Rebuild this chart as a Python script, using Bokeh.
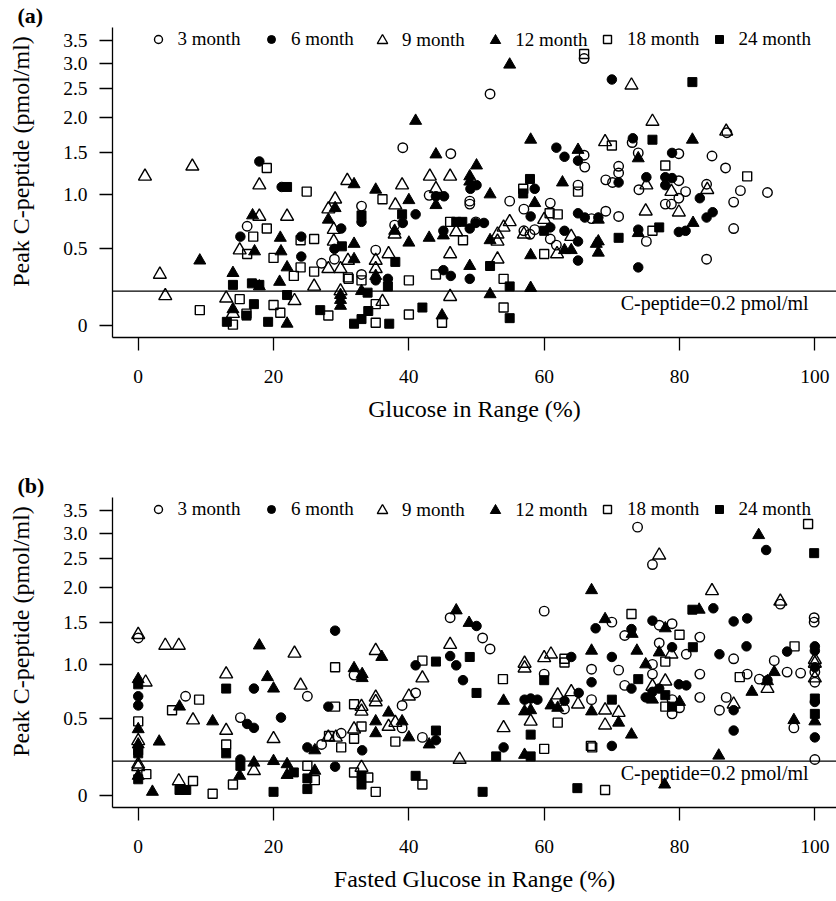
import numpy as np
from bokeh.plotting import figure
from bokeh.models import (Span, Label, Legend, LegendItem, FixedTicker,
                          CustomJSTickFormatter, Range1d)
from bokeh.layouts import column
from bokeh.embed import file_html
from bokeh.resources import INLINE

FONT = "Liberation Serif"

series_labels = ["3 month", "6 month", "9 month", "12 month", "18 month", "24 month"]
y_ticks = [0, 0.5, 1.0, 1.5, 2.0, 2.5, 3.0, 3.5]
x_ticks = [0, 20, 40, 60, 80, 100]
threshold = 0.2
threshold_text = "C-peptide=0.2 pmol/ml"
y_title = "Peak C-peptide (pmol/ml)"
x_title_a = "Glucose in Range (%)"
x_title_b = "Fasted Glucose in Range (%)"

# ---------------- Panel (a): Glucose in Range ----------------
a_m3 = [(16.1,.69),(27.1,.39),(29.0,.42),(65.9,3.1),(52.0,2.40),(39.1,1.56),(46.2,1.48),(65.9,1.46),
        (66.0,1.31),(43.0,.99),(49.0,.93),(49.0,.90),(54.9,.93),(57.0,.85),(60.9,.91),(65.0,1.10),
        (67.0,.76),(33.0,.88),(37.9,.70),(49.9,.73),(57.0,.65),(57.9,.62),(58.6,.66),(60.9,.58),
        (61.8,.53),(35.1,.49),(33.0,.31),(87.0,1.77),(73.0,1.63),(73.9,1.49),(79.9,1.48),(84.8,1.45),
        (86.8,1.30),(71.0,1.32),(71.0,1.24),(69.1,1.16),(70.1,1.13),(74.0,1.05),(79.9,1.15),(80.9,1.03),
        (79.9,.96),(77.9,.90),(78.8,.90),(84.0,1.11),(89.0,1.04),(88.0,.92),(93.0,1.02),(69.1,.83),
        (71.0,.78),(75.1,.56),(88.0,.67),(84.0,.42)]
a_m6 = [(17.9,1.38),(21.2,1.08),(15.1,.60),(24.1,.60),(24.1,.44),(30.0,.67),(29.0,.50),(61.8,1.56),
        (63.0,1.44),(65.0,1.39),(50.0,1.10),(49.1,1.06),(44.0,.98),(45.2,.98),(41.0,.80),(58.6,1.06),
        (65.0,.81),(66.0,.77),(33.0,.73),(39.1,.72),(45.1,.65),(49.0,.67),(49.9,.72),(51.1,.72),
        (58.0,.78),(60.9,.68),(63.0,.65),(65.0,.56),(65.0,.41),(35.1,.27),(36.9,.28),(45.1,.34),
        (46.2,.30),(49.0,.28),(70.0,2.67),(73.1,1.69),(78.9,1.49),(71.0,1.13),(75.1,1.19),(77.9,1.19),
        (78.9,1.18),(77.9,1.10),(83.0,.96),(84.0,.77),(84.9,.82),(68.0,.77),(79.9,.64),(80.9,.65),
        (73.9,.66),(73.9,.36)]
a_m9 = [(1.0,1.20),(8.0,1.32),(3.2,.31),(4.0,.17),(17.9,1.10),(17.9,.78),(22.0,.78),(15.0,.49),
        (28.1,.35),(29.9,.35),(30.9,1.15),(29.1,.95),(28.1,.85),(28.9,.66),(28.9,.56),(31.0,.41),
        (26.0,.23),(13.0,.155),(14.0,.065),(23.1,.14),(29.9,.20),(43.1,1.20),(46.1,1.20),(39.0,1.10),
        (44.0,1.06),(38.0,.89),(37.9,.62),(47.0,.64),(53.1,.62),(53.1,.56),(54.0,.68),(54.9,.73),
        (57.0,.62),(60.0,.75),(61.9,.46),(64.0,.60),(37.0,.46),(35.1,.41),(35.1,.35),(46.1,.46),
        (53.1,.42),(46.1,.165),(36.1,.135),(72.9,2.56),(76.0,1.94),(86.9,1.79),(69.0,1.64),(75.1,1.10),
        (78.8,1.03),(84.1,1.05),(75.0,.83),(79.9,.82)]
a_m12 = [(9.1,.41),(16.9,.79),(17.2,.48),(21.0,.59),(21.1,.48),(22.0,.36),(20.9,.26),(31.9,1.11),
         (29.1,.86),(28.1,.75),(31.9,.54),(31.9,.42),(14.0,.32),(17.9,.23),(14.0,.09),(22.0,.01),
         (29.9,.175),(29.9,.145),(29.9,.11),(54.9,2.97),(41.0,1.95),(44.0,1.47),(58.0,1.67),(65.0,1.53),
         (50.0,1.33),(49.0,1.20),(49.0,1.14),(35.1,1.05),(44.0,.89),(40.0,.94),(52.0,1.00),(62.7,1.13),
         (58.6,.91),(37.9,.65),(40.0,.55),(43.0,.59),(45.1,.61),(52.0,.57),(63.0,.49),(64.0,.49),
         (58.0,.45),(67.7,.54),(35.1,.30),(49.0,.37),(58.0,.22),(33.0,.20),(52.0,.18),(44.9,.055),
         (81.9,1.67),(73.9,1.42),(68.0,.75),(82.0,.72),(73.9,.63),(68.0,.56),(68.0,.47)]
a_m18 = [(9.1,.085),(19.0,1.30),(24.9,1.03),(17.0,.60),(19.0,.67),(16.1,.46),(20.0,.43),(24.0,.57),
         (26.0,.58),(24.0,.36),(23.0,.30),(26.0,.33),(31.0,.29),(15.0,.15),(16.0,.065),(14.0,.005),
         (20.0,.115),(21.0,.07),(28.1,.055),(65.9,3.2),(36.1,.95),(56.9,1.06),(60.8,.81),(62.0,.80),
         (65.0,1.03),(46.1,.73),(48.0,.57),(60.0,.46),(31.1,.28),(33.0,.27),(40.0,.27),(44.0,.31),
         (54.0,.28),(35.1,.12),(35.1,.015),(40.0,.06),(44.9,.015),(54.0,.10),(70.0,1.59),(77.9,1.33),
         (90.0,1.20),(76.0,.65)]
a_m24 = [(22.0,1.08),(30.1,.52),(14.0,.24),(16.8,.25),(17.9,.24),(16.0,.054),(17.1,.12),(13.1,.02),
         (19.2,.02),(22.0,.175),(26.9,.085),(31.9,.01),(57.9,1.17),(56.9,1.01),(39.0,.80),(33.0,.79),
         (47.0,.73),(47.9,.73),(60.0,.65),(38.0,.40),(36.9,.23),(52.0,.37),(54.9,.23),(33.9,.19),
         (34.0,.08),(33.0,.035),(37.1,.01),(42.0,.10),(54.9,.04),(81.9,2.62),(76.0,1.67),(77.0,.68),
         (71.0,.59)]

# ---------------- Panel (b): Fasted Glucose in Range ----------------
b_m3 = [(0,1.30),(7.0,.69),(15.1,.51),(25.0,.69),(27.1,.31),(30.0,.39),(31.9,.89),(39.0,.43),
        (42.0,.36),(39.0,.61),(41.0,.72),(46.1,1.56),(50.9,1.30),(52.0,1.17),(60.0,.90),(63.0,.58),
        (67.0,.95),(67.0,.66),(60.0,1.65),(73.8,3.13),(76.0,2.39),(94.9,1.75),(70.0,1.50),(71.9,1.33),
        (77.0,1.46),(78.9,1.48),(83.0,1.31),(99.9,1.56),(99.9,1.50),(100,.92),(100,.82),(100,.21),
        (96.9,.43),(95.9,.92),(97.9,.91),(94.0,1.04),(91.8,.85),(90.0,.90),(88.0,1.06),(86.9,.68),
        (85.9,.57),(83.0,.90),(83.0,.68),(81.0,1.11),(77.0,1.24),(76.0,1.00),(76.0,.90),(71.0,.94),
        (71.9,.79),(78.9,.66),(80.0,.59),(78.9,.54)]
b_m6 = [(0,.69),(0,.61),(16.1,.46),(17.1,.43),(15.1,.21),(17.1,.76),(21.1,.51),(25.0,.29),
        (29.1,1.39),(28.1,.60),(29.1,.165),(44.0,.34),(33.1,.27),(41.0,.99),(50.0,1.45),(46.1,1.09),
        (47.0,.99),(48.0,.84),(54.0,.29),(64.0,1.08),(57.1,.66),(58.0,.67),(59.0,.66),(63.0,.65),
        (65.1,.72),(67.6,1.42),(67.0,.82),(92.8,2.66),(85.0,1.69),(72.9,1.41),(76.0,1.52),(88.0,1.51),
        (90.0,1.55),(95.9,1.14),(100,1.20),(100,1.15),(100,.97),(100,.64),(100,.36),(93.0,.84),
        (89.9,1.20),(85.9,1.11),(88.0,.57),(88.0,.41),(78.9,1.19),(70.0,1.08),(72.9,.76),(79.9,.80),
        (81.0,.79),(75.0,.68),(76.0,.73),(77.0,.76),(70.0,.30)]
b_m9 = [(0,1.34),(1.1,.82),(0,.335),(0,.18),(0,.165),(4.0,1.21),(6.0,1.21),(8.1,.49),(6.0,.08),
        (13.0,.90),(13.0,.41),(17.1,.14),(20.0,.35),(23.1,1.12),(24.0,.79),(28.1,.36),(29.2,.36),
        (31.9,.42),(35.1,1.15),(33.0,.60),(33.0,.56),(35.1,.68),(35.1,.64),(37.0,.44),(38.0,.47),
        (40.0,.69),(42.0,.86),(46.1,1.22),(54.0,.43),(47.5,.21),(57.1,1.01),(57.1,.96),(60.0,1.07),
        (61.0,1.11),(58.0,.48),(62.0,.70),(64.0,.73),(65.0,.62),(33.0,.16),(77.0,2.56),(84.8,1.95),
        (94.9,1.79),(78.8,1.11),(100,1.05),(100,1.01),(100,.86),(93.0,.76),(88.0,.62),(77.9,.83),
        (76.0,.78),(69.0,.57),(71.0,.55),(69.0,.45)]
b_m12 = [(0,.85),(0,.42),(0,.31),(0,.11),(2.1,.02),(3.1,.33),(6.1,.60),(11.0,.48),(15.0,.11),
         (17.1,.19),(17.9,1.21),(19.1,.87),(20.0,.76),(20.0,.20),(22.0,.18),(22.0,.115),(26.1,.14),
         (26.1,.27),(31.9,.96),(33.1,.90),(33.1,.86),(36.0,1.08),(37.0,.55),(35.1,.48),(35.1,.39),
         (39.0,.48),(40.0,.36),(43.0,.31),(47.0,1.66),(48.9,1.49),(54.0,.65),(57.1,.56),(58.0,.57),
         (57.1,.24),(61.0,.61),(62.0,.59),(67.0,1.96),(67.0,1.15),(67.0,.56),(91.7,2.96),(82.9,1.67),
         (69.0,1.54),(73.0,1.35),(77.9,1.42),(100,.48),(96.9,.49),(94.0,.92),(93.0,.83),(90.7,.73),
         (77.0,1.13),(75.0,1.00),(73.7,1.15),(76.0,.66),(80.0,.64),(71.0,.47),(72.9,.38),(85.8,.235),
         (77.8,.06)]
b_m18 = [(0,.48),(1.2,.12),(9.0,.66),(5.0,.57),(8.1,.08),(11.0,.01),(14.0,.06),(13.0,.31),(25.0,.17),
         (26.1,.085),(28.2,.37),(30.0,.29),(29.1,.97),(29.1,.60),(31.9,.62),(31.9,.35),(31.9,.13),
         (33.0,.44),(38.0,.33),(42.0,1.04),(53.9,.85),(63.0,1.06),(63.0,1.02),(60.0,.28),(62.0,.47),
         (67.1,.29),(34.0,.10),(35.1,.02),(42.0,.06),(99.0,3.2),(72.9,1.61),(80.0,1.34),(97.0,1.20),
         (88.9,.87),(77.9,1.03),(77.9,.60),(66.9,.30),(69.0,.03)]
b_m24 = [(0,.80),(0,.27),(0,.25),(0,.09),(6.1,.03),(7.1,.03),(13.0,.76),(13.0,.25),(15.1,.17),
         (20.0,.02),(23.0,.13),(25.0,.095),(25.0,.035),(44.0,.41),(44.0,1.03),(49.0,1.08),(50.0,.72),
         (52.9,.23),(60.0,.84),(58.0,.38),(58.0,.23),(33.0,.11),(33.0,.06),(41.0,.11),(50.9,.02),
         (64.9,.04),(99.9,2.60),(81.9,1.67),(81.97,1.19),(73.9,.85),(100,.67),(100,.54),(70.0,.66),
         (77.9,.70),(78.9,.60)]

panel_a = [a_m3, a_m6, a_m9, a_m12, a_m18, a_m24]
panel_b = [b_m3, b_m6, b_m9, b_m12, b_m18, b_m24]

marker_styles = [
    dict(marker="circle", size=9.5, fill_color=None, line_color="black", line_width=1.4),
    dict(marker="circle", size=9.5, fill_color="black", line_color="black", line_width=1.0),
    dict(marker="triangle", size=13, fill_color=None, line_color="black", line_width=1.4),
    dict(marker="triangle", size=12, fill_color="black", line_color="black", line_width=1.0),
    dict(marker="square", size=9, fill_color=None, line_color="black", line_width=1.4),
    dict(marker="square", size=9, fill_color="black", line_color="black", line_width=1.0),
]

# legend: marker centre (px from frame left) and glyph box size per entry
legend_centre = [45.6, 159.0, 270.0, 383.3, 495.0, 606.6]
legend_glyph = [20, 20, 26, 26, 20, 20]

# leading no-break spaces shift the rotated title upwards, as in the reference
Y_TITLE_SHIFT = "\u00a0" * 7


def make_panel(tag, series, x_title, height):
    frame_top = 25
    frame_bottom = 337
    p = figure(width=836, height=height, output_backend="svg", toolbar_location=None,
               title=tag,
               x_range=Range1d(-3.80, 103.2), y_range=Range1d(-0.063, 1.575),
               min_border_left=112, min_border_right=0, min_border_top=frame_top,
               min_border_bottom=height - frame_bottom)
    p.outline_line_color = None
    p.xgrid.visible = False
    p.ygrid.visible = False
    p.background_fill_color = "white"

    # panel tag as title, pushed to the far left
    p.title.align = "left"
    p.title.offset = -95
    p.title.standoff = 0
    p.title.text_font = FONT
    p.title.text_font_size = "22px"
    p.title.text_font_style = "bold"
    p.title.text_color = "black"

    # axes
    p.xaxis.ticker = FixedTicker(ticks=x_ticks)
    p.yaxis.ticker = FixedTicker(ticks=[float(np.log1p(v)) for v in y_ticks])
    p.yaxis.formatter = CustomJSTickFormatter(
        code="const v = Math.exp(tick) - 1; return Math.abs(v) < 1e-9 ? '0' : v.toFixed(1);")
    for ax in (p.xaxis[0], p.yaxis[0]):
        ax.major_tick_out = 13
        ax.major_tick_in = 0
        ax.minor_tick_out = 0
        ax.minor_tick_in = 0
        ax.axis_line_width = 1.3
        ax.major_tick_line_width = 1.3
        ax.major_label_text_font = FONT
        ax.major_label_text_font_size = "19.5px"
        ax.major_label_text_color = "black"
        ax.axis_line_color = "black"
        ax.major_tick_line_color = "black"
        ax.axis_label_text_font = FONT
        ax.axis_label_text_font_size = "24px"
        ax.axis_label_text_font_style = "normal"
        ax.axis_label_text_color = "black"
    p.xaxis.major_label_standoff = 19
    p.yaxis.major_label_standoff = 12
    p.xaxis.axis_label = x_title
    p.yaxis.axis_label = Y_TITLE_SHIFT + y_title
    p.xaxis.axis_label_standoff = 10
    p.yaxis.axis_label_standoff = 26

    # threshold line
    p.add_layout(Span(location=float(np.log1p(threshold)), dimension="width",
                      line_color="black", line_width=1.2))
    p.add_layout(Label(x=71.3, y=float(np.log1p(threshold)), text=threshold_text,
                       text_font=FONT, text_font_size="20px", text_baseline="top",
                       text_align="left", y_offset=-1, text_color="black"))

    renderers = []
    for pts, st in zip(series, marker_styles):
        xs = [q[0] for q in pts]
        ys = [float(np.log1p(q[1])) for q in pts]
        r = p.scatter(xs, ys, **st)
        renderers.append(r)

    centre_y = 297  # legend row centre, px above frame bottom
    for lab, r, cx, g in zip(series_labels, renderers, legend_centre, legend_glyph):
        half = g // 2
        leg = Legend(items=[LegendItem(label=lab, renderers=[r])],
                     location=(cx - half, centre_y - half),
                     orientation="horizontal", glyph_width=g, glyph_height=g,
                     label_standoff=int(20 - half), padding=0, margin=0, spacing=0,
                     border_line_color=None, background_fill_alpha=0,
                     label_text_font=FONT, label_text_font_size="19px",
                     label_text_color="black",
                     label_height=20, label_text_baseline="middle")
        p.add_layout(leg)
    return p


pa = make_panel("(a)", panel_a, x_title_a, 470)
pb = make_panel("(b)", panel_b, x_title_b, 431)

layout = column(pa, pb, spacing=0)
open("out.html", "w").write(file_html(layout, INLINE))
